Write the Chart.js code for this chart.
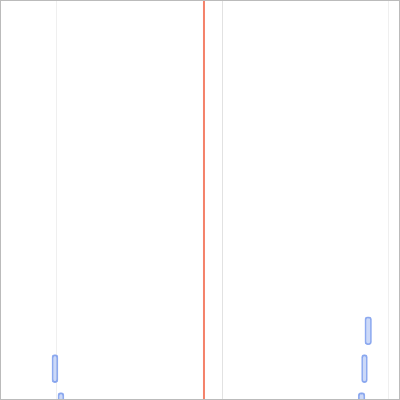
<!DOCTYPE html>
<html>
<head>
<script src="https://cdn.jsdelivr.net/npm/chart.js@4"></script>
<style>
  html, body { margin: 0; padding: 0; background: #fff; }
  #wrap { width: 400px; height: 400px; box-sizing: border-box; border: 1px solid #bbb; }
</style>
</head>
<body>
<div id="wrap"><canvas id="c"></canvas></div>
<script>
const rowPositions = [8.7, 9.7, 10.7, 8.7, 9.7, 10.7];
const rangeStarts = [null, -3, 0.6, 186, 184, 182];
const rangeEnds = [null, 0.6, 4.2, 190, 187.5, 186];
const gridValues = [0, 100, 200];
const markerValue = 88.8;
const markerSpan = [0, 10.5];

const barData = rowPositions.map((y, i) => rangeStarts[i] === null ? null : { x: [rangeStarts[i], rangeEnds[i]], y: y }).filter(d => d);

new Chart(document.getElementById('c'), {
    type: 'bar',
    data: {
        datasets: [
            {
                type: 'bar',
                data: barData,
                backgroundColor: 'rgba(110,145,235,0.35)',
                borderColor: 'rgba(110,145,235,0.75)',
                borderWidth: 1,
                borderRadius: 3,
                borderSkipped: false,
                barThickness: 28
            },
            {
                type: 'line',
                data: markerSpan.map(y => ({ x: markerValue, y: y })),
                borderColor: '#f4826a',
                borderWidth: 2,
                pointRadius: 0
            }
        ]
    },
    options: {
        indexAxis: 'y',
        responsive: true,
        maintainAspectRatio: false,
        animation: false,
        layout: { padding: 0 },
        plugins: { legend: { display: false }, tooltip: { enabled: false } },
        scales: {
            x: {
                type: 'linear',
                min: -33.8,
                max: 206.6,
                afterBuildTicks: scale => { scale.ticks = gridValues.map(v => ({ value: v })); },
                ticks: { display: false },
                grid: { color: ctx => ctx.index === 1 ? '#e2e2e2' : '#efefef', drawTicks: false },
                border: { display: false }
            },
            y: {
                type: 'linear',
                reverse: true,
                offset: false,
                min: 0,
                max: 10.5,
                display: false
            }
        }
    }
});
</script>
</body>
</html>
